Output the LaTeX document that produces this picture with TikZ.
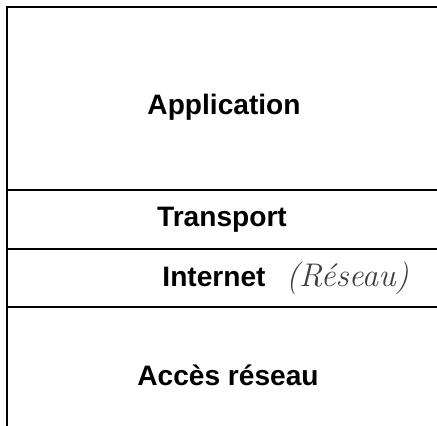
\documentclass[tikz,border=0pt]{standalone}
\usepackage{fontspec}
\setsansfont{Liberation Sans}
\newfontfamily\manuscrit{Latin Modern Roman}
\usetikzlibrary{positioning}

\begin{document}
\begin{tikzpicture}[x=0.03cm, y=-0.03cm,
    couche/.style={inner sep=0pt, anchor=base,
        font=\sffamily\bfseries\fontsize{24}{28}\selectfont},
    note/.style={inner sep=0pt, text=black!75,
        font=\manuscrit\itshape\fontsize{28}{32}\selectfont}]
    \useasboundingbox (0,0) rectangle (437,426);

    % Cadre et séparations des couches
    \draw[line width=2.2pt] (437,7) -- (7,7) -- (7,426);
    \foreach \y in {190,249,307}
        \draw[line width=2pt] (7,\y) -- (437,\y);

    % Noms des couches
    \node[couche] (application) at (224,115) {Application};
    \node[couche] (transport) at (222,227) {Transport};
    \node[couche] (internet) at (214,287) {Internet};
    \node[note, base right=0.6cm of internet] (reseau) {(Réseau)};
    \node[couche] (acces) at (228,386) {Accès réseau};
\end{tikzpicture}
\end{document}
